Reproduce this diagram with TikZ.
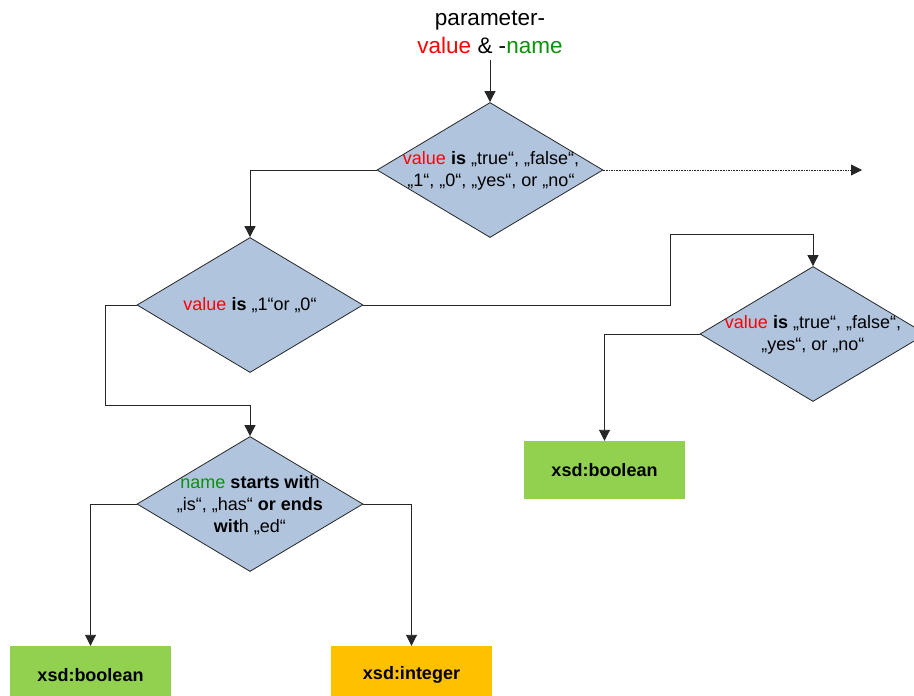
\documentclass[tikz,border=0pt]{standalone}
\usepackage{fontspec}
\setmainfont{Liberation Sans}
\usetikzlibrary{shapes.geometric,arrows.meta}
\definecolor{decfill}{HTML}{B0C4DE}
\definecolor{boolgreen}{HTML}{92D050}
\definecolor{intorange}{HTML}{FFC000}
\definecolor{valred}{HTML}{FF0000}
\definecolor{namegreen}{HTML}{0A920A}
\newcommand{\val}{\textcolor{valred}{value}}
\newcommand{\nam}{\textcolor{namegreen}{name}}
\tikzset{
  decision/.style={diamond, draw=black!85, line width=0.8pt, fill=decfill,
    minimum width=226pt, minimum height=135pt, inner sep=0pt},
  dtext/.style={align=center, font=\fontsize{18}{22}\selectfont, inner sep=0pt},
  typebox/.style={rectangle, minimum width=161pt, minimum height=58pt,
    inner sep=0pt, font=\fontsize{18}{22}\selectfont\bfseries},
  arr/.style={line width=0.9pt, draw=black!85, -{Triangle[width=11pt,length=11pt]}},
  dotarr/.style={line width=0.9pt, draw=black!85, dash pattern=on 1.6pt off 1pt,
    -{Triangle[width=11pt,length=11pt]}}
}
\begin{document}
\begin{tikzpicture}[x=1pt,y=-1pt]
\clip (0,0) rectangle (914,696);
\fill[white] (0,0) rectangle (914,696);

% input
\node (title) [align=center, font=\fontsize{22.5}{28}\selectfont, inner sep=2pt]
  at (490,32) {parameter-\\\val{} \& -\nam};

% decisions
\node (d1) [decision] at (490,170) {};
\node (d1t) [dtext] at (491,171) {\val{} \textbf{is} „true“, „false“,\\„1“, „0“, „yes“, or „no“};
\node (d2) [decision] at (250,305) {};
\node (d2t) [dtext] at (250,305) {\val{} \textbf{is} „1“or „0“};
\node (d3) [decision] at (250,504) {};
\node (d3t) [dtext] at (250,505) {\nam{} \textbf{starts wit}h\\„is“, „has“ \textbf{or ends}\\\textbf{wit}h „ed“};
\node (d4) [decision] at (813,334) {};
\node (d4t) [dtext] at (813,335) {\val{} \textbf{is} „true“, „false“,\\„yes“, or „no“};

% resulting types
\node (b1) [typebox, fill=boolgreen] at (90.5,675) {xsd:boolean};
\node (b2) [typebox, fill=intorange] at (411.5,675) {xsd:integer};
\node (b3) [typebox, fill=boolgreen] at (604.5,470) {xsd:boolean};

\coordinate (other) at (862,170);

% connectors
\draw[arr] ([yshift=-4pt]title.south) -- (d1.north);
\draw[dotarr] (d1.east) -- (other);
\draw[arr] (d1.west) -| (d2.north);
\draw[arr] (d2.west) -- ++(-31,0) |- ([yshift=31pt]d3.north) -- (d3.north);
\draw[arr] (d2.east) -- ++(307,0) |- ([yshift=32pt]d4.north) -- (d4.north);
\draw[arr] (d4.west) -| (b3.north);
\draw[arr] (d3.west) -| (b1.north);
\draw[arr] (d3.east) -| (b2.north);
\end{tikzpicture}
\end{document}
